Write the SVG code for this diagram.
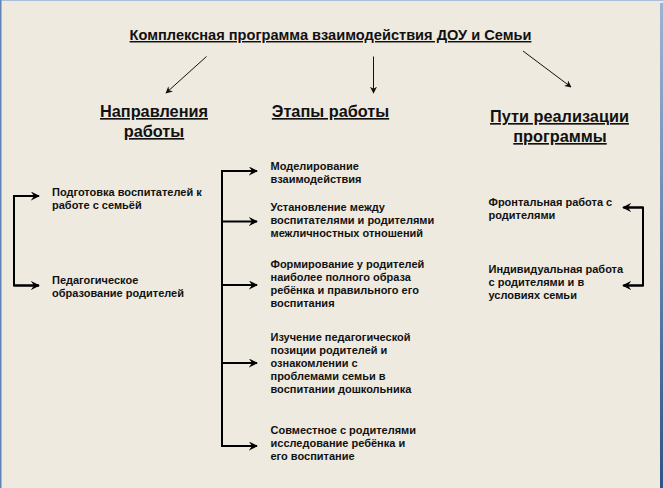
<svg xmlns="http://www.w3.org/2000/svg" width="663" height="488" viewBox="0 0 663 488">
  <defs>
    <style>
      .t { font-family: "Liberation Sans", Arial, sans-serif; font-weight: bold; fill: #111; }
      .title { font-size: 14.6px; text-decoration: underline; }
      .head { font-size: 16.3px; text-decoration: underline; }
      .item { font-size: 11px; }
      .thin { stroke: #111; stroke-width: 1; fill: none; }
      .thick { stroke: #000; stroke-width: 2; fill: none; }
    </style>
    <marker id="ah" viewBox="0 0 10 10" refX="9" refY="5" markerWidth="7" markerHeight="7" markerUnits="userSpaceOnUse" orient="auto">
      <path d="M0,0 L10,5 L0,10 L3,5 z" fill="#111"/>
    </marker>
    <marker id="ab" viewBox="0 0 10 10" refX="9" refY="5" markerWidth="9" markerHeight="9" markerUnits="userSpaceOnUse" orient="auto">
      <path d="M0,0 L10,5 L0,10 L3.5,5 z" fill="#000"/>
    </marker>
    <linearGradient id="rs" x1="0" y1="0" x2="0" y2="1">
      <stop offset="0" stop-color="#9db3d3"/>
      <stop offset="1" stop-color="#2d5584"/>
    </linearGradient>
  </defs>

  <rect x="0" y="0" width="663" height="488" fill="#EEEAE0"/>
  <rect x="0" y="0" width="663" height="1" fill="#a9bedb"/>
  <rect x="0" y="0" width="1.5" height="488" fill="#5f84b8"/>
  <rect x="660" y="3" width="3" height="485" fill="url(#rs)"/>

  <g id="connectors">
    <line class="thin" x1="206.5" y1="56.5" x2="166" y2="93" marker-end="url(#ah)"/>
    <line class="thin" x1="373.5" y1="56.5" x2="373.5" y2="93" marker-end="url(#ah)"/>
    <line class="thin" x1="523" y1="51" x2="571" y2="87" marker-end="url(#ah)"/>

    <path class="thick" d="M39,196 H14 V285.5 H39"/>
    <line class="thick" x1="14" y1="196" x2="39" y2="196" marker-end="url(#ab)"/>
    <line class="thick" x1="14" y1="285.5" x2="39" y2="285.5" marker-end="url(#ab)"/>

    <line class="thick" x1="222" y1="170.5" x2="222" y2="446"/>
    <line class="thick" x1="221" y1="171" x2="257" y2="171" marker-end="url(#ab)"/>
    <line class="thick" x1="222" y1="221.5" x2="257" y2="221.5" marker-end="url(#ab)"/>
    <line class="thick" x1="222" y1="285" x2="257" y2="285" marker-end="url(#ab)"/>
    <line class="thick" x1="222" y1="363" x2="257" y2="363" marker-end="url(#ab)"/>
    <line class="thick" x1="221" y1="446" x2="257" y2="446" marker-end="url(#ab)"/>

    <path class="thick" d="M624,207.5 H643 V285.5 H624"/>
    <line class="thick" x1="643" y1="207.5" x2="623" y2="207.5" marker-end="url(#ab)"/>
    <line class="thick" x1="643" y1="285.5" x2="623" y2="285.5" marker-end="url(#ab)"/>
  </g>

  <g id="title">
    <text class="t title" x="330.5" y="40" text-anchor="middle">Комплексная программа взаимодействия ДОУ и Семьи</text>
  </g>

  <g id="head-napravleniya">
    <text class="t head" x="154" y="117" text-anchor="middle">Направления</text>
    <text class="t head" x="154" y="137" text-anchor="middle">работы</text>
  </g>
  <g id="head-etapy">
    <text class="t head" x="330.5" y="117" text-anchor="middle">Этапы работы</text>
  </g>
  <g id="head-puti">
    <text class="t head" x="559.5" y="122" text-anchor="middle">Пути реализации</text>
    <text class="t head" x="560" y="142" text-anchor="middle">программы</text>
  </g>

  <g id="left-1">
    <text class="t item" x="52" y="195.5">Подготовка воспитателей к</text>
    <text class="t item" x="52" y="208.5">работе с семьёй</text>
  </g>
  <g id="left-2">
    <text class="t item" x="52" y="284">Педагогическое</text>
    <text class="t item" x="52" y="297">образование родителей</text>
  </g>

  <g id="mid-1">
    <text class="t item" x="270.5" y="169.5">Моделирование</text>
    <text class="t item" x="270.5" y="182.5">взаимодействия</text>
  </g>
  <g id="mid-2">
    <text class="t item" x="270.5" y="211">Установление между</text>
    <text class="t item" x="270.5" y="224">воспитателями и родителями</text>
    <text class="t item" x="270.5" y="237">межличностных отношений</text>
  </g>
  <g id="mid-3">
    <text class="t item" x="270.5" y="268">Формирование у родителей</text>
    <text class="t item" x="270.5" y="281">наиболее полного образа</text>
    <text class="t item" x="270.5" y="294">ребёнка и правильного его</text>
    <text class="t item" x="270.5" y="307">воспитания</text>
  </g>
  <g id="mid-4">
    <text class="t item" x="270.5" y="341">Изучение педагогической</text>
    <text class="t item" x="270.5" y="354">позиции родителей и</text>
    <text class="t item" x="270.5" y="367">ознакомлении с</text>
    <text class="t item" x="270.5" y="380">проблемами семьи в</text>
    <text class="t item" x="270.5" y="393">воспитании дошкольника</text>
  </g>
  <g id="mid-5">
    <text class="t item" x="270.5" y="434">Совместное с родителями</text>
    <text class="t item" x="270.5" y="447">исследование ребёнка и</text>
    <text class="t item" x="270.5" y="460">его воспитание</text>
  </g>

  <g id="right-1">
    <text class="t item" x="488.5" y="206">Фронтальная работа с</text>
    <text class="t item" x="488.5" y="219">родителями</text>
  </g>
  <g id="right-2">
    <text class="t item" x="488.5" y="273">Индивидуальная работа</text>
    <text class="t item" x="488.5" y="286">с родителями и в</text>
    <text class="t item" x="488.5" y="299">условиях семьи</text>
  </g>
</svg>
